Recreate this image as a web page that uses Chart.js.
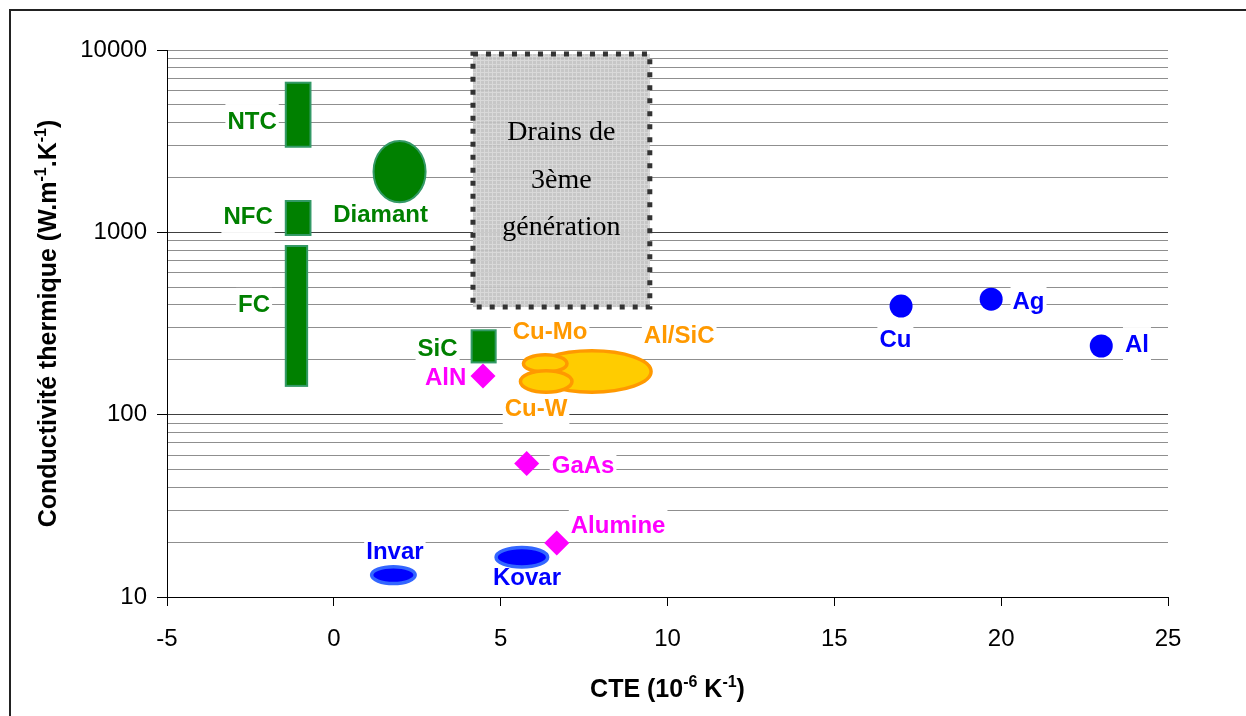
<!DOCTYPE html>
<html>
<head>
<meta charset="utf-8">
<script src="https://cdn.jsdelivr.net/npm/chart.js@4.4.0/dist/chart.umd.min.js"></script>
<style>
html,body{margin:0;padding:0;background:#fff;}
#wrap{width:1246px;height:716px;}
</style>
</head>
<body>
<div id="wrap"><canvas id="c" width="1246" height="716"></canvas></div>
<script>
// --- valeurs ---
const xTicks=[-5,0,5,10,15,20,25];
const yMajor=[10,100,1000,10000];
const yGrid=[10,20,30,40,50,60,70,80,90,100,200,300,400,500,600,700,800,900,1000,2000,3000,4000,5000,6000,7000,8000,9000,10000];

// rectangles verts : plage de CTE / plage de conductivité
const barNames=['NTC','NFC','FC','SiC'];
const barCte=[[-1.47,-0.67],[-1.47,-0.67],[-1.47,-0.77],[4.10,4.88]];
const barK=[[2910,6700],[955,1504],[142,852],[191,294]];

// ellipses
const ellNames=['Diamant','Al/SiC','Cu-Mo','Cu-W','Invar','Kovar'];
const ellGroup=['g','o','o','o','b','b'];
const ellCte=[[1.16,2.78],[5.90,9.56],[5.63,7.04],[5.54,7.19],[1.08,2.49],[4.81,6.46]];
const ellK=[[1443,3210],[130,229],[167,218],[130,178],[11.6,15.0],[14.3,19.1]];

// métaux (ronds bleus)
const metalNames=['Cu','Ag','Al'];
const metalCte=[17.0,19.7,23.0];
const metalK=[394,430,238];

// céramiques (losanges magenta)
const ceramNames=['AlN','GaAs','Alumine'];
const ceramCte=[4.47,5.78,6.68];
const ceramK=[163,54,19.8];

// zone "Drains de 3ème génération"
const drainCte=[4.17,9.47];
const drainK=[389,9500];
const drainText=['Drains de','3ème','génération'];

// étiquettes (ancrées en coordonnées du graphe)
const labelText=['NTC','NFC','FC','Diamant','SiC','AlN','Cu-Mo','Al/SiC','Cu-W','GaAs','Alumine','Invar','Kovar','Cu','Ag','Al'];
const labelGroup=['g','g','g','g','g','m','o','o','o','m','m','b','b','b','b','b'];
const labelCte=[-2.45,-2.57,-2.39,1.40,3.11,3.35,6.48,10.35,6.06,7.47,8.52,1.83,5.79,16.83,20.82,24.07];
const labelK=[4130,1230,405,1276,233,161,288,274,109,53.6,25.1,18.1,12.9,262,425,247];

const FONT="'Liberation Sans', Arial, sans-serif";
const TXT={g:'#008000',m:'#FF00FF',o:'#FF9900',b:'#0000FF'};
const FILL={g:'#008000',o:'#FFCC00',b:'#0000FF'};
const EDGE={g:'#339966',o:'#FF9900',b:'#3366FF'};

function grayPattern(ctx){
  const p=document.createElement('canvas');p.width=4;p.height=4;
  const g=p.getContext('2d');
  g.fillStyle='#c3c3c3';g.fillRect(0,0,4,4);
  g.fillStyle='#d6d6d6';g.fillRect(0,0,4,1);g.fillRect(0,0,1,4);
  return ctx.createPattern(p,'repeat');
}

const shapes={
  id:'shapes',
  beforeDatasetsDraw(chart){
    const {ctx,scales:{x,y}}=chart;
    ctx.save();
    // zone grise
    const dx1=x.getPixelForValue(drainCte[0]),dx2=x.getPixelForValue(drainCte[1]);
    const dy1=y.getPixelForValue(drainK[1]),dy2=y.getPixelForValue(drainK[0]);
    ctx.globalAlpha=0.92;
    ctx.fillStyle=grayPattern(ctx);
    ctx.fillRect(dx1,dy1,dx2-dx1,dy2-dy1);
    ctx.globalAlpha=1;
    ctx.setLineDash([5,8]);ctx.lineWidth=5;ctx.strokeStyle='#333';
    ctx.strokeRect(dx1,dy1,dx2-dx1,dy2-dy1);
    ctx.setLineDash([]);
    ctx.fillStyle='#000';ctx.textAlign='center';ctx.textBaseline='alphabetic';
    ctx.font="28px 'Liberation Serif', 'Times New Roman', serif";
    drainText.forEach((t,i)=>ctx.fillText(t,(dx1+dx2)/2,dy1+86+i*47.5));

    // étiquettes avec fond blanc
    ctx.font='bold 24px '+FONT;
    labelText.forEach((t,i)=>{
      const px=x.getPixelForValue(labelCte[i]),py=y.getPixelForValue(labelK[i]);
      const w=ctx.measureText(t).width;
      ctx.fillStyle='#fff';ctx.fillRect(px-w/2-2,py-16,w+4,33);
      ctx.fillStyle=TXT[labelGroup[i]];ctx.fillText(t,px,py+8.5);
    });

    // rectangles
    barNames.forEach((n,i)=>{
      const x1=x.getPixelForValue(barCte[i][0]),x2=x.getPixelForValue(barCte[i][1]);
      const y1=y.getPixelForValue(barK[i][1]),y2=y.getPixelForValue(barK[i][0]);
      ctx.fillStyle=FILL.g;ctx.strokeStyle=EDGE.g;ctx.lineWidth=2;
      ctx.fillRect(x1+1,y1+1,x2-x1-2,y2-y1-2);
      ctx.strokeRect(x1+1,y1+1,x2-x1-2,y2-y1-2);
    });

    // ellipses
    ellNames.forEach((n,i)=>{
      const g=ellGroup[i],lw=g==='g'?2:3.5;
      const x1=x.getPixelForValue(ellCte[i][0]),x2=x.getPixelForValue(ellCte[i][1]);
      const y1=y.getPixelForValue(ellK[i][1]),y2=y.getPixelForValue(ellK[i][0]);
      ctx.beginPath();
      ctx.ellipse((x1+x2)/2,(y1+y2)/2,(x2-x1-lw)/2,(y2-y1-lw)/2,0,0,Math.PI*2);
      ctx.fillStyle=FILL[g];ctx.fill();
      ctx.lineWidth=lw;ctx.strokeStyle=EDGE[g];ctx.stroke();
    });
    ctx.restore();
  },
  afterDraw(chart){
    const {ctx}=chart;
    ctx.save();
    // cadre
    ctx.strokeStyle='#222';ctx.lineWidth=2;
    ctx.strokeRect(10,10,1400,900);
    // titres d'axes avec exposants
    const drawParts=(parts,cx,cy)=>{
      ctx.textAlign='left';ctx.textBaseline='alphabetic';ctx.fillStyle='#000';
      const fonts=parts.map(p=>p[1]?'bold 16px '+FONT:'bold 25px '+FONT);
      let tot=0;
      parts.forEach((p,i)=>{ctx.font=fonts[i];tot+=ctx.measureText(p[0]).width;});
      let cx0=cx-tot/2;
      parts.forEach((p,i)=>{
        ctx.font=fonts[i];
        ctx.fillText(p[0],cx0,cy-(p[1]?10:0));
        cx0+=ctx.measureText(p[0]).width;
      });
    };
    drawParts([['CTE (10',0],['-6',1],[' K',0],['-1',1],[')',0]],667.5,697);
    ctx.translate(56,323.5);ctx.rotate(-Math.PI/2);
    drawParts([['Conductivité thermique (W.m',0],['-1',1],['.K',0],['-1',1],[')',0]],0,0);
    ctx.restore();
  }
};

new Chart(document.getElementById('c'),{
  type:'scatter',
  data:{datasets:[
    {label:'métaux',data:metalCte.map((v,i)=>({x:v,y:metalK[i]})),
     pointStyle:'circle',pointRadius:11.5,backgroundColor:'#0000FF',borderWidth:0},
    {label:'céramiques',data:ceramCte.map((v,i)=>({x:v,y:ceramK[i]})),
     pointStyle:'rectRot',pointRadius:12.5,backgroundColor:'#FF00FF',borderWidth:0}
  ]},
  options:{
    responsive:false,animation:false,devicePixelRatio:1,
    layout:{padding:{top:50,right:78,left:0,bottom:0}},
    plugins:{legend:{display:false},tooltip:{enabled:false}},
    scales:{
      x:{type:'linear',min:-5,max:25,
        afterBuildTicks:s=>{s.ticks=xTicks.map(v=>({value:v}));},
        afterFit:s=>{s.height=119;},
        grid:{drawOnChartArea:false,drawTicks:true,tickLength:9,tickColor:'#000'},
        border:{color:'#000',width:1},
        ticks:{color:'#000',font:{family:FONT,size:24},padding:19,maxRotation:0,autoSkip:false}
      },
      y:{type:'logarithmic',min:10,max:10000,
        afterBuildTicks:s=>{s.ticks=yGrid.map(v=>({value:v}));},
        afterFit:s=>{s.width=167;},
        grid:{
          color:c=>(c.tick&&(c.tick.value===100||c.tick.value===1000))?'#404040':'#8f8f8f',
          tickColor:c=>(c.tick&&yMajor.includes(c.tick.value))?'#000':'rgba(0,0,0,0)',
          tickLength:10,drawTicks:true
        },
        border:{color:'#000',width:1},
        ticks:{autoSkip:false,color:'#000',font:{family:FONT,size:24},padding:10,
          callback:v=>yMajor.includes(v)?String(v):''}
      }
    }
  },
  plugins:[shapes]
});
</script>
</body>
</html>
